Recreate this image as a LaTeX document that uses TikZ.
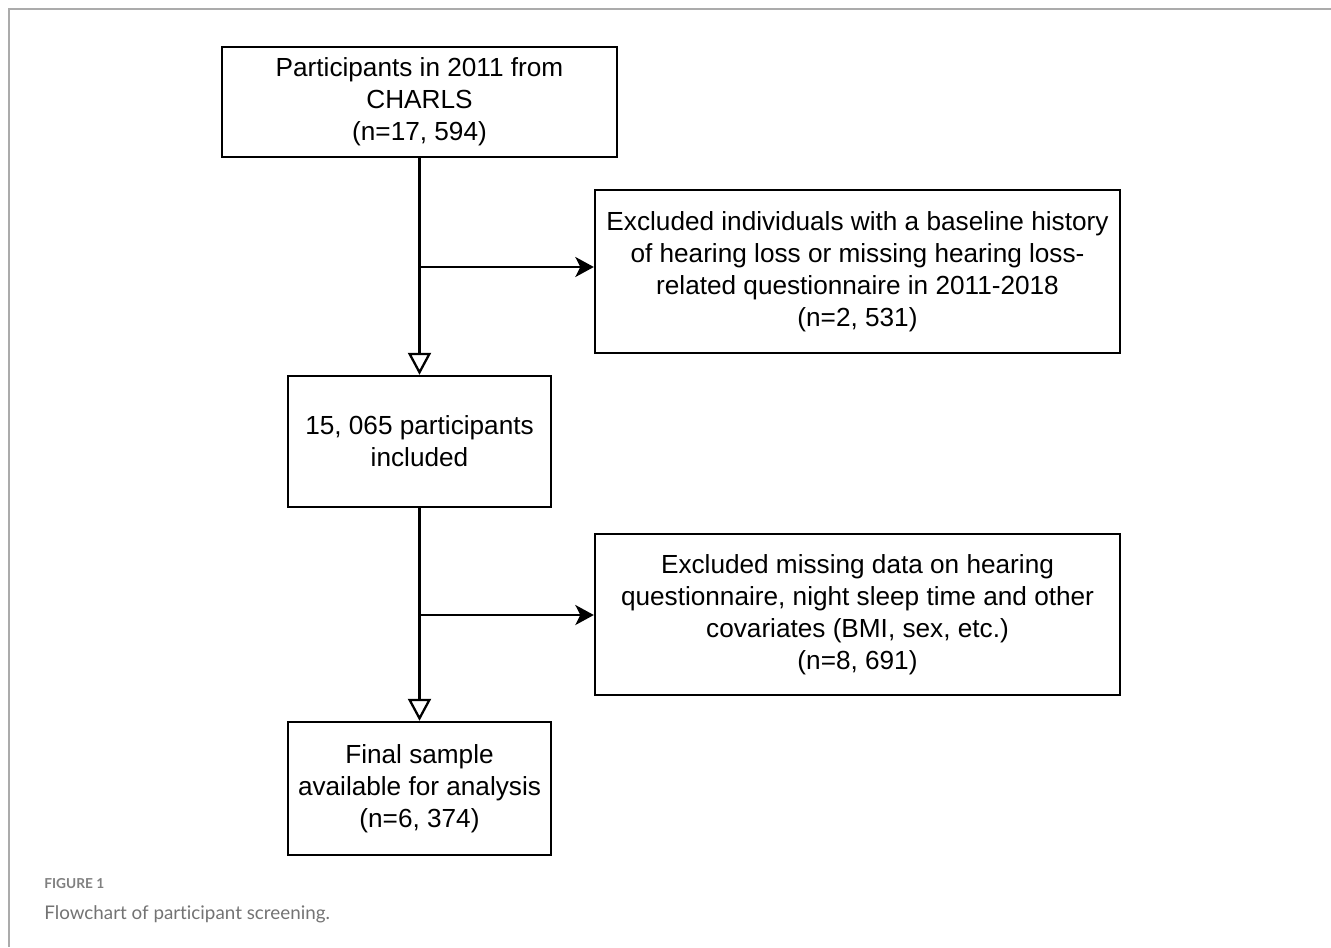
\documentclass[tikz,border=0pt]{standalone}
\usepackage{fontspec}
\setmainfont{Liberation Sans}
\newfontfamily\captionfont[Ligatures={NoCommon}]{Lato}
\usetikzlibrary{arrows.meta, positioning}

\begin{document}
\begin{tikzpicture}[x=0.02cm, y=-0.02cm,
  flowbox/.style = {shape=rectangle, draw, line width=1.4pt, align=center, inner sep=0pt, font=\fontsize{14.9}{18.2}\selectfont},
  openhead/.style = {-{Triangle[open, length=0.44cm, width=0.46cm, line width=1.3pt]}, line width=1.4pt},
  fillhead/.style = {-{Stealth[length=0.37cm, width=0.4cm, inset=0.1cm]}, line width=1.4pt},
  frameline/.style = {draw=black!33, line width=1.1pt},
]
\useasboundingbox (0,0) rectangle (1331,947);

% frame
\draw[frameline] (1331,9) -- (9,9) -- (9,947);

\node (charls) [flowbox, minimum width=7.9cm, minimum height=2.2cm] at (419.5,102) {Participants in 2011 from\\CHARLS\\(n=17, 594)};
\node (excludeA) [flowbox, minimum width=10.5cm, minimum height=3.26cm] at (857.5,271.5) {Excluded individuals with a baseline history\\of hearing loss or missing hearing loss-\\related questionnaire in 2011-2018\\(n=2, 531)};
\node (included) [flowbox, minimum width=5.26cm, minimum height=2.62cm] at (419.5,441.5) {15, 065 participants\\included};
\node (excludeB) [flowbox, minimum width=10.5cm, minimum height=3.22cm] at (857.5,614.5) {Excluded missing data on hearing\\questionnaire, night sleep time and other\\covariates (BMI, sex, etc.)\\(n=8, 691)};
\node (final) [flowbox, minimum width=5.26cm, minimum height=2.66cm] at (419.5,788.5) {Final sample\\available for analysis\\(n=6, 374)};

\coordinate (splitA) at (419.5,267);
\coordinate (splitB) at (419.5,615);

\draw[openhead] (charls) -- (included);
\draw[fillhead] (splitA) -- (splitA -| excludeA.west);
\draw[openhead] (included) -- (final);
\draw[fillhead] (splitB) -- (splitB -| excludeB.west);

% caption
\node (figlabel) [anchor=base west, inner sep=0pt, text=black!50, font=\captionfont\bfseries\fontsize{7.8}{9}\selectfont] at (44,888) {FIGURE 1};
\node (figtext) [anchor=base west, inner sep=0pt, text=black!55, font=\captionfont\fontsize{10.7}{12}\selectfont] at (44,919) {Flowchart of participant screening.};
\end{tikzpicture}
\end{document}
